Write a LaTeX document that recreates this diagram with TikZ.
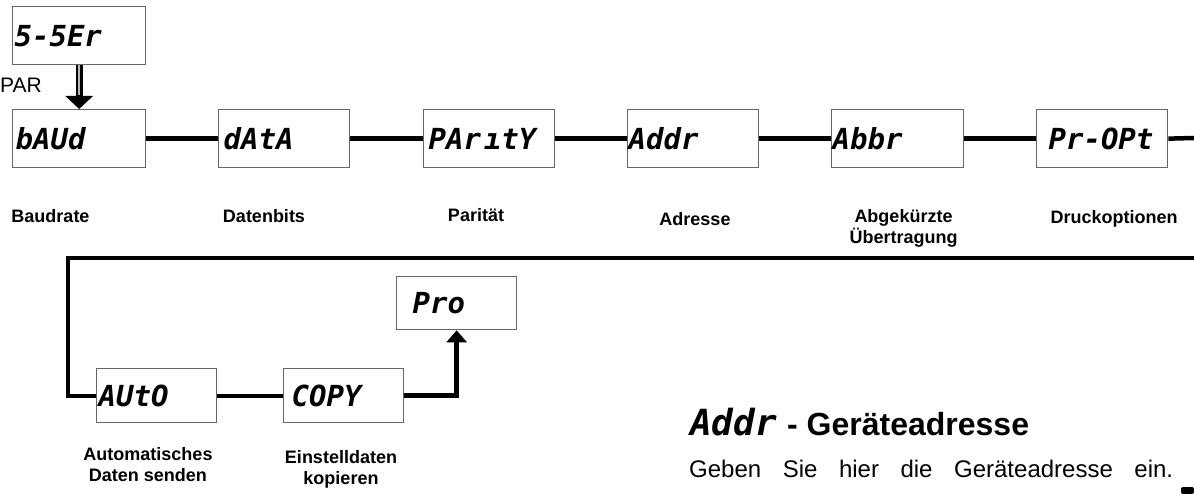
\documentclass[tikz,border=0pt]{standalone}
\usepackage{fontspec}
\setmainfont{Liberation Sans}
\newfontfamily\segf{DejaVu Sans Mono}
\usetikzlibrary{arrows.meta}
\tikzset{
  seg/.style={font=\segf\bfseries\itshape\fontsize{29}{29}\selectfont},
  dbox/.style={draw=black!60, line width=1.3pt, anchor=north west, inner ysep=0pt, align=left, seg},
  lbl/.style={font=\bfseries\fontsize{18}{21}\selectfont, align=center, inner sep=0pt},
  conn/.style={line width=4.5pt, black},
}
\begin{document}
\begin{tikzpicture}[x=1pt,y=-1pt]
\fill[white] (0,0) rectangle (1194,494);
\useasboundingbox (0,0) rectangle (1194,494);
% boxes
\node[dbox, text width=129pt, inner xsep=2pt, minimum height=58pt] (sser) at (12,6) {5-5Er};
\node[dbox, text width=127pt, inner xsep=3pt, minimum height=58pt] (baud) at (12,109) {bAUd};
\node[dbox, text width=121pt, inner xsep=5pt, minimum height=58pt] (data) at (218,109) {dAtA};
\node[dbox, text width=121pt, inner xsep=5pt, minimum height=58pt] (parity) at (423,109) {PAr\hspace{3pt}ıtY};
\node[dbox, text width=129pt, inner xsep=1pt, minimum height=58pt] (addr) at (627,109) {Addr};
\node[dbox, text width=130pt, inner xsep=1pt, minimum height=58pt] (abbr) at (831,109) {Abbr};
\node[dbox, text width=107pt, inner xsep=12pt, minimum height=58pt] (propt) at (1036,109) {\mbox{Pr-OPt}};
\node[dbox, text width=88pt, inner xsep=16pt, minimum height=53pt] (pro) at (396,276) {Pro};
\node[dbox, text width=116pt, inner xsep=2pt, minimum height=54pt] (auto) at (96,368) {AUtO};
\node[dbox, text width=104pt, inner xsep=8pt, minimum height=54pt] (copy) at (283,368) {COPY};
% PAR arrow
\node[anchor=west, font=\fontsize{21}{21}\selectfont, inner sep=0pt] (par) at (0,85) {PAR};
\draw[line width=7pt, -{Triangle[width=27pt,length=13pt]}] (sser.south) -- (baud.north);
\draw[gray!55, line width=2pt] (sser.south) -- ++(0,30);
% connectors row 1
\coordinate (r1) at (1194,138);
\coordinate (r2) at (1194,258);
\coordinate (l2) at (68,258);
\draw[conn] (baud.east) -- (data.west);
\draw[conn] (data.east) -- (parity.west);
\draw[conn] (parity.east) -- (addr.west);
\draw[conn] (addr.east) -- (abbr.west);
\draw[conn] (abbr.east) -- (propt.west);
\draw[conn] (propt.east) -- (r1);
% return line
\draw[conn, line width=4pt] (r2) -- (l2) |- (auto.west);
\draw[conn, line width=4pt] (auto.east) -- (copy.west);
\draw[line width=5.5pt, -{Triangle[width=20pt,length=12pt]}] (copy.east) -| (pro.south);
% labels
\node[lbl] (lbaud) at (50.5,216) {Baudrate};
\node[lbl] (ldata) at (264,216) {Datenbits};
\node[lbl] (lpar) at (476,215) {Parität};
\node[lbl] (laddr) at (695,219) {Adresse};
\node[lbl] (labbr) at (903.5,228) {Abgekürzte\\Übertragung};
\node[lbl] (lpropt) at (1114,219) {Druckoptionen};
\node[lbl] (lauto) at (148,465) {Automatisches\\Daten senden};
\node[lbl] (lcopy) at (341,469) {Einstelldaten\\kopieren};
% heading and text
\node[anchor=base west, inner sep=0pt, font=\segf\bfseries\itshape\fontsize{36}{36}\selectfont] (haddr) at (690,435) {Addr};
\node[anchor=base west, inner sep=0pt, font=\bfseries\fontsize{32}{32}\selectfont] (htitle) at (787,435) {- Geräteadresse};
\node[anchor=base west, inner sep=0pt, font=\fontsize{24}{24}\selectfont] (body) at (689,477) {\makebox[484pt][s]{Geben Sie hier die Geräteadresse ein.}};
\fill[black, rounded corners=2pt] (1181,494) rectangle (1194,487);
\end{tikzpicture}
\end{document}
